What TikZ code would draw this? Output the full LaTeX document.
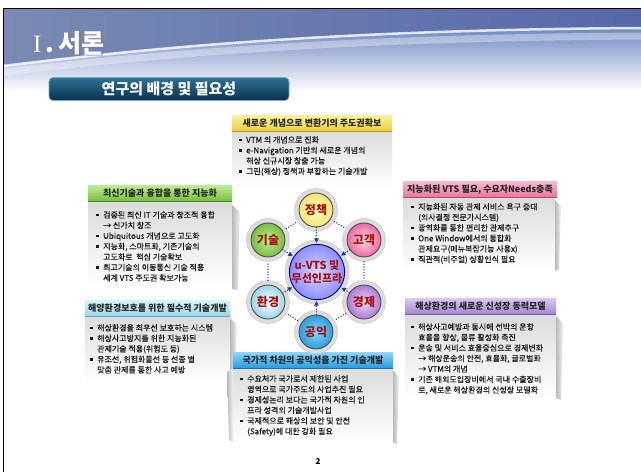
\documentclass[tikz,border=0pt]{standalone}
\usepackage{fontspec}
\setmainfont{Noto Sans CJK KR}
\newfontfamily\bodyfont[FakeBold=0.35]{Noto Sans CJK KR}
\newfontfamily\romanI{Liberation Serif}
\usetikzlibrary{arrows.meta,shadings}
\definecolor{hdA}{HTML}{7A8AB4}
\definecolor{hdB}{HTML}{CCD6EA}
\definecolor{hdC}{HTML}{5668AA}
\definecolor{hdD}{HTML}{7088C2}
\definecolor{subT}{HTML}{2E7294}
\definecolor{subB}{HTML}{0A3150}
\definecolor{subE}{HTML}{7AAAC6}
\definecolor{yT}{HTML}{FAF29A}\definecolor{yB}{HTML}{E8D040}\definecolor{yE}{HTML}{B89A20}
\definecolor{gT}{HTML}{C0EC98}\definecolor{gB}{HTML}{76BE3E}\definecolor{gE}{HTML}{4C8C28}
\definecolor{pT}{HTML}{F9B8D0}\definecolor{pB}{HTML}{E8749C}\definecolor{pE}{HTML}{B84870}
\definecolor{cT}{HTML}{D8F4FA}\definecolor{cB}{HTML}{98D6E6}\definecolor{cE}{HTML}{5AA8C0}
\definecolor{vT}{HTML}{DCC8F2}\definecolor{vB}{HTML}{A686D0}\definecolor{vE}{HTML}{7A58A8}
\definecolor{bT}{HTML}{8AD6FA}\definecolor{bB}{HTML}{2A9CDC}\definecolor{bE}{HTML}{1A70A8}
\definecolor{lblred}{HTML}{A81010}
\definecolor{dotblue}{HTML}{27388E}
\newcommand\bu{\makebox[7pt][l]{\raisebox{1.6pt}{\rule{2.6pt}{2.6pt}}}}
\newcommand\indt{\hspace*{7pt}}
\tikzset{
 halo/.style={circle, minimum size=43pt, inner sep=0, inner color=white, outer color=gray!30, draw=gray!40, line width=.5pt},
 bub/.style={circle, minimum size=34pt, inner sep=0, draw=black!70, line width=.9pt, text=lblred, font=\fontsize{12}{12}\selectfont\bfseries},
 ring/.style={draw=dotblue, line width=1.5pt, line cap=round, dash pattern=on 0pt off 2.7pt},
 spoke/.style={ring, -{Triangle[length=4.5pt,width=4.5pt]}, shorten >=1pt},
 hdr/.style={minimum height=16pt, inner sep=0, text=black!85, font=\fontsize{9}{9}\selectfont\bfseries},
 bodytext/.style={anchor=north west, inner sep=0, align=left, text=black!90, font=\bodyfont\fontsize{8}{10.5}\selectfont},
 bodybox/.style={top color=gray!28, bottom color=white},
 curl/.style={left color=gray!55, right color=gray!10},
}
\begin{document}
\begin{tikzpicture}[x=1pt,y=-1pt]
\useasboundingbox (0,0) rectangle (641,472);
\fill[white] (0,0) rectangle (641,472);
% header background
\shade[left color=hdA, middle color=hdB, right color=hdC] (3,8) -- (641,8) -- (641,28) .. controls (330,30) and (150,48) .. (3,66) -- cycle;
\shade[top color=hdD, bottom color=white] (3,66) .. controls (150,48) and (330,30) .. (641,28) -- (641,92) -- (3,92) -- cycle;
\draw[white, opacity=.35, line width=7pt] (3,72) .. controls (150,55) and (330,38) .. (641,36);
\draw[white, opacity=.8, line width=2.5pt] (3,66) .. controls (150,48) and (330,30) .. (641,28);
\draw[black, line width=1pt] (3,472) -- (3,8) -- (641,8);
% title
\node[anchor=base west, inner sep=0, text=black!50, opacity=.5, font=\fontsize{25}{25}\selectfont\bfseries] at (34.5,53.5) {{\romanI\mdseries I}\,.\,서론};
\node[anchor=base west, inner sep=0, text=white, font=\fontsize{25}{25}\selectfont\bfseries] (title) at (33,52) {{\romanI\mdseries I}\,.\,서론};
\node[rounded corners=4pt, minimum width=240pt, minimum height=23pt, inner sep=0, top color=subT, bottom color=subB, draw=subE, line width=.8pt, text=white, font=\fontsize{15}{15}\selectfont\bfseries] (sub) at (169,89) {연구의 배경 및 필요성};

% ---------- top box
\shade[bodybox] (232,131) rectangle (392,187);
\node[hdr, minimum width=160pt, top color=yT, bottom color=yB] (Th) at (312,123) {새로운 개념으로 변환기의 주도권확보};
\draw[yE, line width=1pt] (Th.south west) -- (Th.south east);
\node[bodytext] (Tb) at (239,136) {\bu VTM 의 개념으로 진화\\ \bu e-Navigation 기반의 새로운 개념의\\ \indt 해상 신규시장 창출 가능\\ \bu 그린(해상) 정책과 부합하는 기술개발};

% ---------- left top
\shade[bodybox] (88,201) rectangle (232,289);
\shade[curl] (232,205) -- (240,212) -- (238,290) -- (232,289) -- cycle;
\node[hdr, minimum width=144pt, top color=gT, bottom color=gB] (L1h) at (160,193) {최신기술과 융합을 통한 지능화};
\draw[gE, line width=1pt] (L1h.south west) -- (L1h.south east);
\node[bodytext] (L1b) at (96,211) {\bu 검증된 최신 IT 기술과 창조적 융합\\ \indt → 신가치 창조\\ \bu Ubiquitous 개념으로 고도화\\ \bu 지능화, 스마트화, 기존기술의\\ \indt 고도화로\ \ 핵심 기술확보\\ \bu 최고기술의 이동통신 기술 적용\\ \indt 세계 VTS 주도권 확보가능};

% ---------- right top
\shade[bodybox] (403,197) rectangle (555,270);
\shade[curl] (555,200) -- (561,206) -- (559,270) -- (555,270) -- cycle;
\node[hdr, minimum width=154pt, top color=pT, bottom color=pB] (R1h) at (480,189.5) {지능화된 VTS 필요, 수요자Needs충족};
\draw[pE, line width=1pt] (R1h.south west) -- (R1h.south east);
\node[bodytext] (R1b) at (411,203) {\bu 지능화된 자동 관제 서비스 욕구 증대\\ \indt (의사결정 전문가시스템)\\ \bu 광역화를 통한 편리한 관제추구\\ \bu One Window에서의 통합화\\ \indt 관제요구(메뉴복잡기능 사용x)\\ \bu 직관적(비주얼) 상황인식 필요};

% ---------- left bottom
\shade[bodybox] (85,316) rectangle (230,382);
\shade[curl] (230,318) -- (237,325) -- (235,385) -- (230,382) -- cycle;
\node[hdr, minimum width=145pt, top color=cT, bottom color=cB] (L2h) at (157.5,308) {해양환경보호를 위한 필수적 기술개발};
\draw[cE, line width=1pt] (L2h.south west) -- (L2h.south east);
\node[bodytext] (L2b) at (90,324) {\bu 해상환경을 최우선 보호하는 시스템\\ \bu 해상사고방지를 위한 지능화된\\ \indt 관제기술 적용(위험도 등)\\ \bu 유조선, 위험화물선 등 선종 별\\ \indt 맞춤 관제를 통한 사고 예방};

% ---------- right bottom
\shade[bodybox] (405,314) rectangle (556,398);
\shade[curl] (556,316) -- (563,323) -- (561,400) -- (556,398) -- cycle;
\node[hdr, minimum width=151pt, top color=vT, bottom color=vB] (R2h) at (480.5,306) {해상환경의 새로운 신성장 동력모델};
\draw[vE, line width=1pt] (R2h.south west) -- (R2h.south east);
\node[bodytext] (R2b) at (411,323) {\bu 해상사고예방과 동시에 선박의 운항\\ \indt 효율을 향상, 물류 활성화 촉진\\ \bu 운송 및 서비스 효율중심으로 경제변화\\ \indt → 해상운송의 안전, 효율화, 글로벌화\\ \indt → VTM의 개념\\ \bu 기존 해외도입장비에서 국내 수출장비\\ \indt 로, 새로운 해상환경의 신성장 모델화};

% ---------- bottom center
\shade[bodybox] (233,368) rectangle (393,442);
\shade[curl] (393,370) -- (399,377) -- (397,444) -- (393,442) -- cycle;
\shade[curl] (227,372) -- (233,368) -- (233,442) -- (229,440) -- cycle;
\node[hdr, minimum width=160pt, top color=bT, bottom color=bB] (Bh) at (313,360) {국가적 차원의 공익성을 가진 기술개발};
\draw[bE, line width=1pt] (Bh.south west) -- (Bh.south east);
\node[bodytext] (Bb) at (240,375) {\bu 수요처가 국가로서 제한된 사업\\ \indt 영역으로 국가주도의 사업추진 필요\\ \bu 경제성논리 보다는 국가적 차원의 인\\ \indt 프라 성격의 기술개발사업\\ \bu 국제적으로 해상의 보안 및 안전\\ \indt (Safety)에 대한 강화 필요};

% ---------- circles
\node[halo] (h1) at (316,210) {};
\node[halo] (h2) at (364,240) {};
\node[halo] (h3) at (364,302) {};
\node[halo] (h4) at (316,332) {};
\node[halo] (h5) at (268,302) {};
\node[halo] (h6) at (268,240) {};
\node[halo, minimum size=64pt] (hc) at (317,272) {};
\draw[ring] (h1) -- (h2);
\draw[ring] (h2) -- (h3);
\draw[ring] (h3) -- (h4);
\draw[ring] (h4) -- (h5);
\draw[ring] (h5) -- (h6);
\draw[ring] (h6) -- (h1);
\node[bub, inner color=yellow!25, outer color=yT!60!yB] (c1) at (h1) {정책};
\node[bub, inner color=pink!60, outer color=pB!90!magenta] (c2) at (h2) {고객};
\node[bub, inner color=vT!70, outer color=vB!90!magenta] (c3) at (h3) {경제};
\node[bub, inner color=bT, outer color=bB] (c4) at (h4) {공익};
\node[bub, inner color=white, outer color=cB] (c5) at (h5) {환경};
\node[bub, inner color=gT, outer color=gB] (c6) at (h6) {기술};
\node[bub, minimum size=55pt, inner color=blue!15, outer color=blue!45!white, draw=blue!40!black, align=center, font=\fontsize{11}{12.5}\selectfont\bfseries] (cc) at (hc) {u-VTS 및\\무선인프라};
\draw[spoke] (c1) -- (cc);
\draw[spoke] (c2) -- (cc);
\draw[spoke] (c3) -- (cc);
\draw[spoke] (c4) -- (cc);
\draw[spoke] (c5) -- (cc);
\draw[spoke] (c6) -- (cc);

\node[font=\fontsize{8}{8}\selectfont\bfseries] (pg) at (318,462) {2};
\end{tikzpicture}
\end{document}
